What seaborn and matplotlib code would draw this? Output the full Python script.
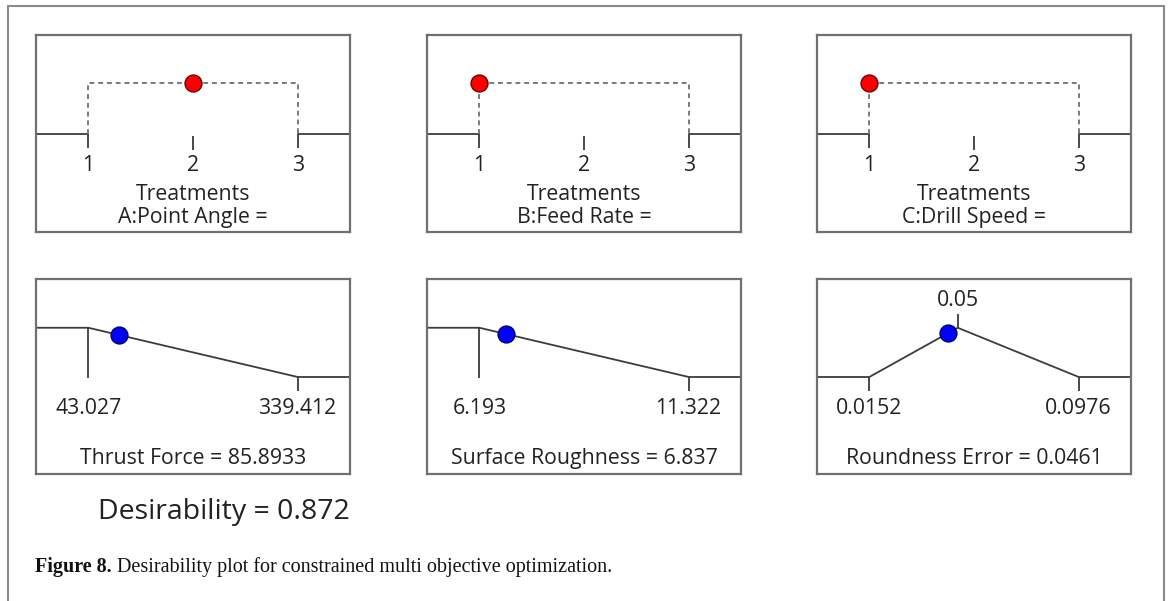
import matplotlib
matplotlib.use("Agg")
import matplotlib.pyplot as plt
import seaborn as sns
import pandas as pd
from matplotlib.lines import Line2D

# ---------------- data ----------------
treatments = [1, 2, 3]
factor_labels = ["A:Point Angle =", "B:Feed Rate =", "C:Drill Speed ="]
factor_settings = [2, 1, 1]

resp_names = ["Thrust Force", "Surface Roughness", "Roundness Error"]
resp_lows = [43.027, 6.193, 0.0152]
resp_highs = [339.412, 11.322, 0.0976]
resp_low_txt = ["43.027", "6.193", "0.0152"]
resp_high_txt = ["339.412", "11.322", "0.0976"]
resp_targets = [None, None, 0.05]
resp_target_txt = [None, None, "0.05"]
resp_values = [85.8933, 6.837, 0.0461]
resp_value_txt = ["85.8933", "6.837", "0.0461"]
resp_desir = [0.855, 0.874, 0.888]
desirability_txt = "0.872"
caption_bold = "Figure 8."
caption_text = " Desirability plot for constrained multi objective optimization."

# ---------------- style ----------------
sns.set_theme(style="white")
plt.rcParams["font.family"] = ["Open Sans", "DejaVu Sans"]
TXT = "#222222"
LINE = "#3c3c3c"
BOX = "#707070"
FS = 15.3

fig = plt.figure(figsize=(11.7, 6.01), dpi=100)

W, H = 1170, 601
cols_x = [36, 427, 817]
pw = 314

def axes_at(x0, y0, x1, y1):
    return fig.add_axes([x0 / W, 1 - y1 / H, (x1 - x0) / W, (y1 - y0) / H])

def style_box(ax):
    ax.set_xticks([]); ax.set_yticks([])
    for s in ax.spines.values():
        s.set_color(BOX); s.set_linewidth(1.6); s.set_visible(True)
    ax.set_facecolor("white")

# ---------- top row: factors ----------
for i in range(3):
    ax = axes_at(cols_x[i], 35, cols_x[i] + pw, 232)
    style_box(ax)
    lo, hi = treatments[0], treatments[-1]
    span = hi - lo
    x_left, x_right = lo - 0.25 * span, hi + 0.25 * span
    ax.set_xlim(x_left, x_right)
    ax.set_ylim(-1.953, 1.953)
    base = pd.DataFrame({"x": [x_left, lo], "y": [0, 0]})
    sns.lineplot(data=base, x="x", y="y", ax=ax, color=LINE, lw=1.3, estimator=None, sort=False)
    base2 = pd.DataFrame({"x": [hi, x_right], "y": [0, 0]})
    sns.lineplot(data=base2, x="x", y="y", ax=ax, color=LINE, lw=1.3, estimator=None, sort=False)
    dash = pd.DataFrame({"x": [lo, lo, hi, hi], "y": [0, 1, 1, 0]})
    sns.lineplot(data=dash, x="x", y="y", ax=ax, color="#7a7a7a", lw=1.4,
                 estimator=None, sort=False, linestyle=(0, (2.5, 2)))
    for t in treatments:
        y0 = 0 if t in (lo, hi) else -0.04
        ax.vlines(t, y0 - 0.28, y0, color=LINE, lw=1.3)
        ax.text(t, -0.63, str(t), ha="center", va="center", fontsize=FS, color=TXT)
    ax.text(0.5, 0.188, "Treatments", transform=ax.transAxes, ha="center", va="center",
            fontsize=FS, color=TXT)
    ax.text(0.5, 0.075, factor_labels[i], transform=ax.transAxes, ha="center", va="center",
            fontsize=FS, color=TXT)
    pt = pd.DataFrame({"x": [factor_settings[i]], "y": [1]})
    sns.scatterplot(data=pt, x="x", y="y", ax=ax, color="#ff0000", s=150,
                    edgecolor="#5a0000", linewidth=0.9, zorder=5)
    ax.set_xlabel(""); ax.set_ylabel("")

# ---------- bottom row: responses ----------
for i in range(3):
    ax = axes_at(cols_x[i], 279, cols_x[i] + pw, 474)
    style_box(ax)
    lo, hi = resp_lows[i], resp_highs[i]
    span = hi - lo
    x_left, x_right = lo - 0.25 * span, hi + 0.25 * span
    ax.set_xlim(x_left, x_right)
    ax.set_ylim(-1.97, 1.99)
    tgt = resp_targets[i]
    if tgt is None:
        px = [x_left, lo, hi, x_right]
        py = [1, 1, 0, 0]
    else:
        px = [x_left, lo, tgt, hi, x_right]
        py = [0, 0, 1, 0, 0]
    prof = pd.DataFrame({"x": px, "y": py})
    sns.lineplot(data=prof, x="x", y="y", ax=ax, color=LINE, lw=1.3, estimator=None, sort=False)
    if tgt is None:
        ax.vlines(lo, -0.02, 1, color=LINE, lw=1.3)
        ax.vlines(hi, -0.28, 0, color=LINE, lw=1.3)
    else:
        ax.vlines(lo, -0.28, 0, color=LINE, lw=1.3)
        ax.vlines(hi, -0.28, 0, color=LINE, lw=1.3)
        ax.vlines(tgt, 1, 1.28, color=LINE, lw=1.3)
        ax.text(tgt, 1.56, resp_target_txt[i], ha="center", va="center", fontsize=FS, color=TXT)
    ax.text(lo, -0.63, resp_low_txt[i], ha="center", va="center", fontsize=FS, color=TXT)
    ax.text(hi, -0.63, resp_high_txt[i], ha="center", va="center", fontsize=FS, color=TXT)
    ax.text(0.5, 0.08, f"{resp_names[i]} = {resp_value_txt[i]}", transform=ax.transAxes,
            ha="center", va="center", fontsize=FS, color=TXT)
    pt = pd.DataFrame({"x": [resp_values[i]], "y": [resp_desir[i]]})
    sns.scatterplot(data=pt, x="x", y="y", ax=ax, color="#0000ff", s=150,
                    edgecolor="#00005a", linewidth=0.9, zorder=5)
    ax.set_xlabel(""); ax.set_ylabel("")

# ---------- texts ----------
fig.text(98 / W, 1 - 519 / H, f"Desirability = {desirability_txt}", ha="left", va="baseline",
         fontsize=20.5, color=TXT)
t1 = fig.text(35 / W, 1 - 572 / H, caption_bold, ha="left", va="baseline", fontsize=14.5,
              fontweight="bold", family=["Liberation Serif"], color="#111111")
renderer = fig.canvas.get_renderer()
bb = t1.get_window_extent(renderer=renderer)
fig.text(bb.x1 / W, 1 - 572 / H, caption_text, ha="left", va="baseline", fontsize=14.5,
         family=["Liberation Serif"], color="#111111")

# outer frame
fr = dict(color="#8a8a8a", lw=1.5, transform=fig.transFigure)
fig.add_artist(Line2D([8 / W, 1164 / W], [1 - 6 / H, 1 - 6 / H], **fr))
fig.add_artist(Line2D([8 / W, 8 / W], [1 - 6 / H, 0], **fr))
fig.add_artist(Line2D([1164 / W, 1164 / W], [1 - 6 / H, 0], **fr))

fig.savefig("out.png", dpi=100, facecolor="white")
